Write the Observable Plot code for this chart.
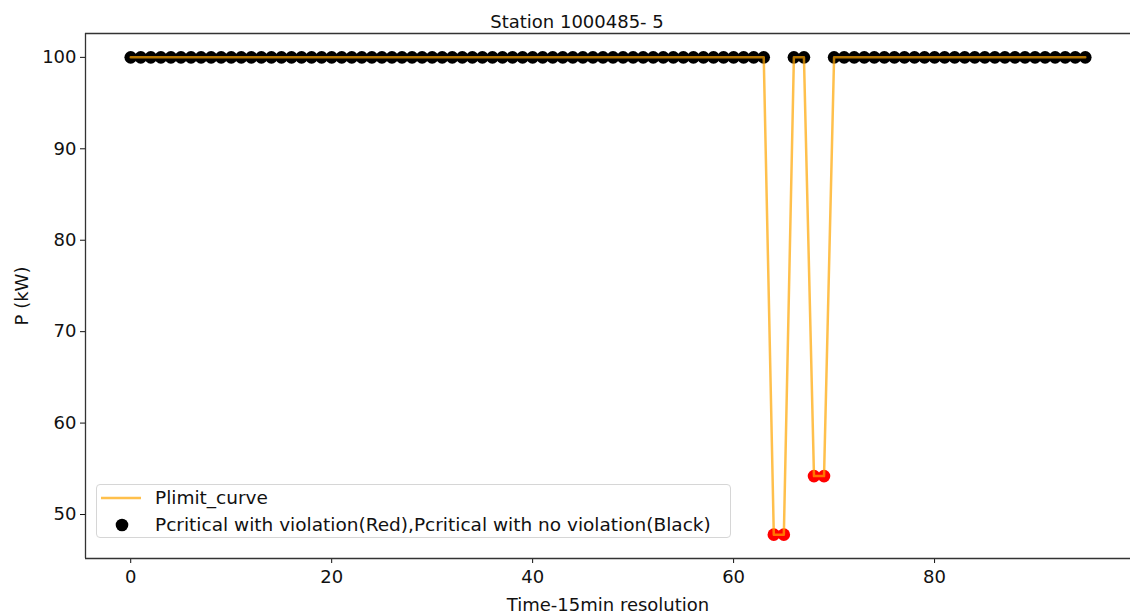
<!DOCTYPE html>
<html>
<head>
<meta charset="utf-8">
<script src="https://cdn.jsdelivr.net/npm/d3@7"></script>
<script src="https://cdn.jsdelivr.net/npm/@observablehq/plot@0.6"></script>
<style>
  html, body { margin: 0; padding: 0; background: #fff; }
  #wrap { position: relative; width: 1130px; height: 615px; overflow: hidden; font-family: "DejaVu Sans", sans-serif; }
  #legend { position: absolute; left: 96px; top: 484px; width: 635px; height: 54px; box-sizing: border-box;
    border: 1px solid #d6d6d6; border-radius: 4px; background: rgba(255,255,255,0.8); font-size: 18.5px; color: #111; }
  .row { position: absolute; left: 0; height: 24px; }
  .lbl { position: absolute; left: 58px; top: 0; line-height: 24px; white-space: nowrap; }
</style>
</head>
<body>
<div id="wrap"></div>
<script>
const title = "Station 1000485- 5";
const xLabel = "Time-15min resolution";
const yLabel = "P (kW)";
const lineName = "Plimit_curve";
const dotName = "Pcritical with violation(Red),Pcritical with no violation(Black)";

const time = [0,1,2,3,4,5,6,7,8,9,10,11,12,13,14,15,16,17,18,19,20,21,22,23,24,25,26,27,28,29,30,31,32,33,34,35,36,37,38,39,40,41,42,43,44,45,46,47,48,49,50,51,52,53,54,55,56,57,58,59,60,61,62,63,64,65,66,67,68,69,70,71,72,73,74,75,76,77,78,79,80,81,82,83,84,85,86,87,88,89,90,91,92,93,94,95];
const plimit = [100,100,100,100,100,100,100,100,100,100,100,100,100,100,100,100,100,100,100,100,100,100,100,100,100,100,100,100,100,100,100,100,100,100,100,100,100,100,100,100,100,100,100,100,100,100,100,100,100,100,100,100,100,100,100,100,100,100,100,100,100,100,100,100,47.8,47.8,100,100,54.2,54.2,100,100,100,100,100,100,100,100,100,100,100,100,100,100,100,100,100,100,100,100,100,100,100,100,100,100];
const pcritical = [100,100,100,100,100,100,100,100,100,100,100,100,100,100,100,100,100,100,100,100,100,100,100,100,100,100,100,100,100,100,100,100,100,100,100,100,100,100,100,100,100,100,100,100,100,100,100,100,100,100,100,100,100,100,100,100,100,100,100,100,100,100,100,100,47.8,47.8,100,100,54.2,54.2,100,100,100,100,100,100,100,100,100,100,100,100,100,100,100,100,100,100,100,100,100,100,100,100,100,100];
const violation = [0,0,0,0,0,0,0,0,0,0,0,0,0,0,0,0,0,0,0,0,0,0,0,0,0,0,0,0,0,0,0,0,0,0,0,0,0,0,0,0,0,0,0,0,0,0,0,0,0,0,0,0,0,0,0,0,0,0,0,0,0,0,0,0,1,1,0,0,1,1,0,0,0,0,0,0,0,0,0,0,0,0,0,0,0,0,0,0,0,0,0,0,0,0,0,0];
const xTicks = [0,20,40,60,80];
const yTicks = [50,60,70,80,90,100];

const data = time.map((t,i) => ({t, plimit: plimit[i], pcrit: pcritical[i], viol: violation[i] === 1}));

const xDom = [-4.5, 99.5];
const yDom = [45.19, 102.61];

const chart = Plot.plot({
  width: 1130, height: 615,
  marginLeft: 85, marginRight: 0, marginTop: 33, marginBottom: 57,
  style: { fontFamily: "DejaVu Sans, sans-serif", fontSize: "18px", color: "#111", background: "white", overflow: "visible" },
  x: { domain: xDom, ticks: xTicks, tickSize: 5, tickPadding: 7, label: xLabel, labelAnchor: "center", labelOffset: 52, labelArrow: "none" },
  y: { domain: yDom, ticks: yTicks, tickSize: 5, tickPadding: 4, label: yLabel, labelAnchor: "center", labelOffset: 70, labelArrow: "none" },
  marks: [
    Plot.dot(data, { x: "t", y: "pcrit", r: 6.3, fill: d => d.viol ? "#ff0000" : "#000000", stroke: "none" }),
    Plot.line(data, { x: "t", y: "plimit", stroke: "orange", strokeOpacity: 0.7, strokeWidth: 2.5 }),
    Plot.ruleX([xDom[0]], { stroke: "#333", strokeWidth: 1.3 }),
    Plot.ruleY([yDom[0]], { stroke: "#333", strokeWidth: 1.3 }),
    Plot.ruleY([yDom[1]], { stroke: "#333", strokeWidth: 1.3 }),
    Plot.text([title], { frameAnchor: "top", dy: -18, dx: -31, fontSize: 18, fill: "#111" })
  ]
});

const wrap = document.getElementById("wrap");
wrap.appendChild(chart);

const legend = document.createElement("div");
legend.id = "legend";
legend.innerHTML = `
  <div class="row" style="top:1px;width:100%">
    <svg width="50" height="24" style="position:absolute;left:0"><line x1="4" x2="44" y1="12" y2="12" stroke="orange" stroke-opacity="0.7" stroke-width="2.5"/></svg>
    <span class="lbl">${lineName}</span>
  </div>
  <div class="row" style="top:28px;width:100%">
    <svg width="50" height="24" style="position:absolute;left:0"><circle cx="25" cy="12" r="6.3" fill="#000"/></svg>
    <span class="lbl">${dotName}</span>
  </div>`;
wrap.appendChild(legend);
</script>
</body>
</html>
